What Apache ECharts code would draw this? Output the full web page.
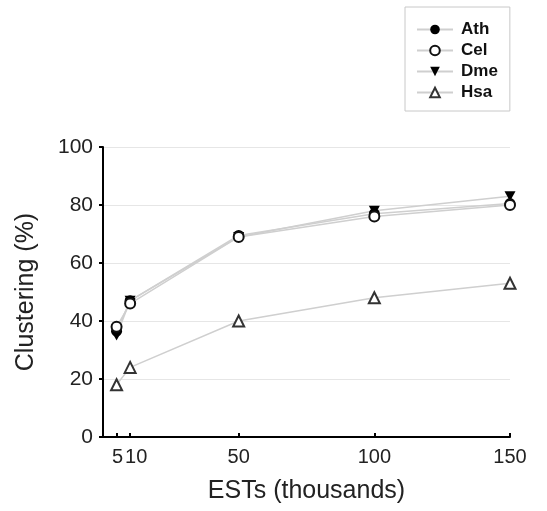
<!DOCTYPE html>
<html>
<head>
<meta charset="utf-8">
<script src="https://cdn.jsdelivr.net/npm/echarts@6/dist/echarts.min.js"></script>
<style>html,body{margin:0;padding:0;background:#fff}#c{width:547px;height:511px}</style>
</head>
<body>
<div id="c"></div>
<script>
const estX = [5, 10, 50, 100, 150];
const xTickLabels = [5, 10, 50, 100, 150];
const seriesNames = ['Ath', 'Cel', 'Dme', 'Hsa'];
const ath = [36.5, 47, 69.5, 77, 80.5];
const cel = [38, 46, 69, 76, 80];
const dme = [35, 47, 69, 78, 83];
const hsa = [18, 24, 40, 48, 53];

const pairs = v => estX.map((x, i) => [x, v[i]]);
const downTri = 'path://M0,0 L10,0 L5,9 Z';
const lineCol = '#cfcfcf';

const chart = echarts.init(document.getElementById('c'));
chart.setOption({
  animation: false,
  backgroundColor: '#fff',
  textStyle: { fontFamily: 'Liberation Sans, Arial, sans-serif' },
  grid: { left: 103, right: 37, top: 147, bottom: 74, containLabel: false },
  legend: {
    orient: 'vertical',
    left: 405,
    top: 7,
    padding: [14, 12, 10, 11],
    itemWidth: 36,
    itemHeight: 12,
    itemGap: 4,
    borderColor: '#c8c8c8',
    borderWidth: 1,
    data: seriesNames,
    textStyle: { fontSize: 17, fontWeight: 'bold', color: '#111', lineHeight: 17, padding: [0, 0, 0, 3] }
  },
  xAxis: {
    type: 'value',
    min: 0, max: 150,
    name: 'ESTs (thousands)',
    nameLocation: 'middle',
    nameGap: 42,
    nameTextStyle: { fontSize: 25, color: '#222' },
    axisLine: { lineStyle: { color: '#000', width: 2 } },
    axisTick: { show: true, inside: true, length: 4, lineStyle: { color: '#000', width: 2 }, customValues: xTickLabels },
    axisLabel: {
      fontSize: 20, color: '#222', margin: 10, hideOverlap: false,
      showMinLabel: true, showMaxLabel: true,
      customValues: xTickLabels,
      formatter: v => v === 10 ? '{r|10}' : (v === 5 ? '{l|5}' : String(v)),
      rich: {
        r: { fontSize: 20, color: '#222', padding: [0, 0, 0, 12] },
        l: { fontSize: 20, color: '#222', padding: [0, 0, 0, 2] }
      }
    },
    splitLine: { show: false }
  },
  yAxis: {
    type: 'value',
    min: 0, max: 100, interval: 20,
    name: 'Clustering (%)',
    nameLocation: 'middle',
    nameGap: 64,
    nameTextStyle: { fontSize: 25, color: '#222' },
    axisLine: { show: true, lineStyle: { color: '#000', width: 2 } },
    axisTick: { show: true, inside: false, length: 4, lineStyle: { color: '#000', width: 2 } },
    axisLabel: { fontSize: 21, color: '#222', margin: 10 },
    splitLine: { show: true, lineStyle: { color: '#e6e6e6', width: 1 } }
  },
  series: [
    { name: 'Ath', type: 'line', data: pairs(ath), symbol: 'circle', symbolSize: 11,
      itemStyle: { color: '#000' }, lineStyle: { color: lineCol, width: 1.5 }, z: 3 },
    { name: 'Cel', type: 'line', data: pairs(cel), symbol: 'emptyCircle', symbolSize: 10,
      itemStyle: { color: '#111', borderWidth: 1.5 }, lineStyle: { color: lineCol, width: 1.5 }, z: 4 },
    { name: 'Dme', type: 'line', data: pairs(dme), symbol: downTri, symbolSize: [11, 10],
      itemStyle: { color: '#000' }, lineStyle: { color: lineCol, width: 1.5 }, z: 2 },
    { name: 'Hsa', type: 'line', data: pairs(hsa), symbol: 'emptyTriangle', symbolSize: 11,
      itemStyle: { color: '#333', borderWidth: 1.5 }, lineStyle: { color: lineCol, width: 1.5 }, z: 2 }
  ]
});
</script>
</body>
</html>
